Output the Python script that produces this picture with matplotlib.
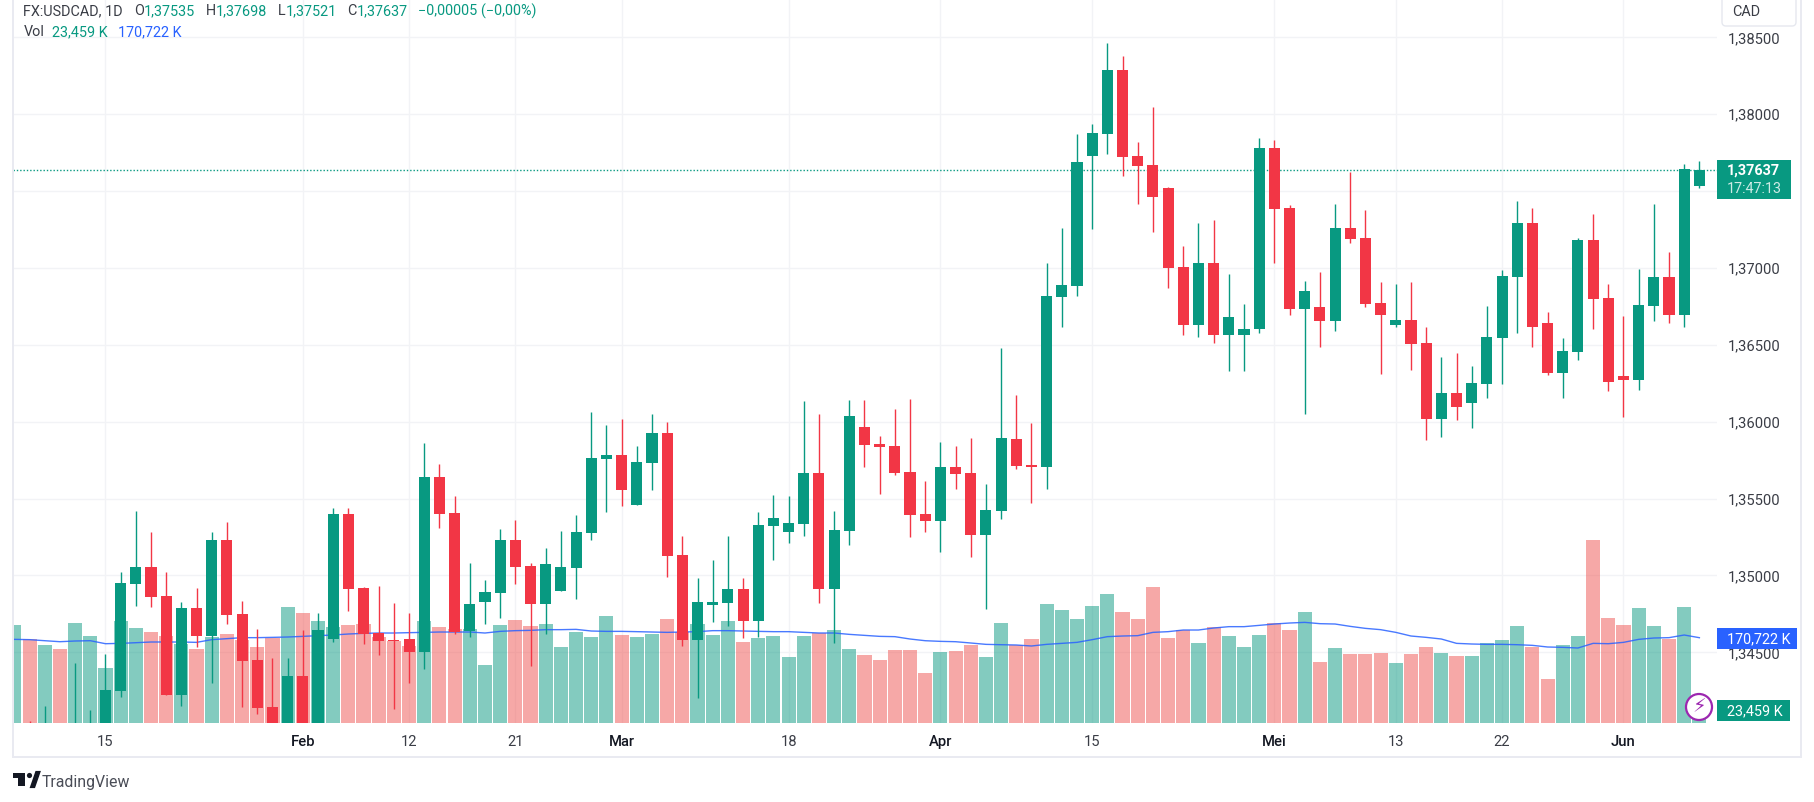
#!/usr/bin/env python3
"""USDCAD daily candles with volume overlay, TradingView style."""
import numpy as np
import matplotlib
matplotlib.use("Agg")
import matplotlib.pyplot as plt
from matplotlib.patches import Rectangle, FancyBboxPatch, Circle, Polygon

W, H = 1815, 802
plt.rcParams["font.family"] = ["Roboto", "DejaVu Sans"]

# prices in 1e-5 units; the first few bodies sit below the visible range
opens = [133900, 134000, 133950, 134000, 133950, 133950, 133950, 134249, 134944, 135054,
         134866, 134223, 134788, 134606, 135229, 134749, 134450, 134145, 134000, 134346,
         134000, 134587, 135398, 134918, 134626, 134580, 134587, 134502, 135639, 135405,
         134639, 134827, 134885, 135229, 135061, 134814, 134898, 135048, 135275, 135755,
         135781, 135457, 135729, 135924, 135132, 134580, 134807, 134820, 134911, 134703,
         135320, 135281, 135333, 135665, 134911, 135288, 135963, 135853, 135840, 135671,
         135398, 135353, 135703, 135665, 135262, 135418, 135885, 135716, 135703, 136814,
         136885, 137729, 137872, 138288, 137729, 137671, 137522, 137009, 136626, 137035,
         136567, 136567, 136600, 137781, 137392, 136736, 136749, 136652, 137262, 137197,
         136775, 136626, 136664, 136509, 136015, 136184, 136119, 136242, 136541, 136944,
         137294, 136639, 136314, 136450, 137184, 136807, 136294, 136268, 136755, 136944,
         136697, 137535]
highs = [133960, 134054, 134151, 134010, 134431, 134126, 134489, 135022, 135418, 135281,
         135022, 134827, 134918, 135281, 135346, 134833, 134652, 134463, 134463, 134645,
         134755, 135437, 135437, 134924, 134931, 134820, 134755, 135859, 135723, 135515,
         135080, 134970, 135301, 135359, 135080, 135177, 135288, 135392, 136061, 135976,
         136015, 135840, 136048, 135996, 135255, 134983, 135100, 135255, 134983, 135411,
         135522, 135515, 136132, 136048, 135418, 136139, 136143, 135905, 136080, 136145,
         135613, 135866, 135840, 135892, 135593, 136476, 136171, 135989, 137035, 137262,
         137872, 137937, 138463, 138379, 137820, 138048, 137528, 137145, 137294, 137314,
         136963, 136768, 137846, 137833, 137411, 136918, 136976, 137418, 137626, 137379,
         136911, 136898, 136911, 136613, 136418, 136444, 136359, 136755, 136989, 137437,
         137392, 136716, 136541, 137197, 137353, 136898, 136690, 136996, 137418, 137106,
         137677, 137698]
lows = [133880, 133900, 133900, 133900, 133900, 133900, 133900, 134210, 134801, 134794,
        134223, 134151, 134535, 134301, 134684, 134145, 134100, 133950, 133950, 133950,
        133950, 134567, 134768, 134554, 134483, 134132, 134301, 134392, 135307, 134619,
        134600, 134684, 134723, 134944, 134411, 134619, 134898, 134846, 135229, 135411,
        135450, 135457, 135554, 134989, 134541, 134203, 134697, 134671, 134593, 134600,
        135100, 135210, 135255, 134820, 134561, 135197, 135703, 135528, 135652, 135249,
        135281, 135152, 135561, 135119, 134781, 135366, 135690, 135470, 135561, 136613,
        136820, 137255, 137742, 137600, 137418, 137236, 136872, 136567, 136548, 136509,
        136327, 136327, 136574, 137035, 136697, 136048, 136483, 136593, 137165, 136749,
        136307, 136613, 136333, 135879, 135898, 136009, 135957, 136152, 136242, 136574,
        136483, 136301, 136152, 136398, 136606, 136197, 136028, 136203, 136658, 136645,
        136619, 137521]
closes = [133950, 133950, 134000, 133950, 134000, 134000, 134255, 134950, 135054, 134859,
          134223, 134788, 134606, 135229, 134742, 134444, 134139, 134000, 134346, 134000,
          134645, 135398, 134911, 134619, 134574, 134574, 134502, 135639, 135398, 134632,
          134814, 134892, 135229, 135054, 134814, 135074, 135054, 135281, 135762, 135781,
          135554, 135736, 135924, 135126, 134580, 134827, 134827, 134911, 134703, 135327,
          135372, 135340, 135665, 134911, 135294, 136035, 135846, 135833, 135665, 135392,
          135353, 135703, 135658, 135262, 135424, 135892, 135710, 135703, 136820, 136892,
          137690, 137879, 138288, 137723, 137665, 137463, 137002, 136626, 137035, 136567,
          136678, 136606, 137781, 137385, 136736, 136853, 136652, 137262, 137190, 136768,
          136697, 136664, 136502, 136015, 136184, 136093, 136249, 136548, 136950, 137294,
          136613, 136314, 136457, 137184, 136801, 136255, 136268, 136762, 136944, 136697,
          137645, 137637]
# volume in thousands
volumes = [196.1, 168.1, 156.1, 148.1, 200.1, 174.1, 110.1, 204.1, 190.1, 182.1,
           174.1, 158.1, 148.1, 172.1, 178.1, 166.1, 152.1, 170.1, 232.1, 220.1,
           204.1, 192.1, 196.1, 198.1, 172.1, 164.1, 154.1, 204.1, 192.1, 188.1,
           188.1, 116.1, 196.1, 206.1, 194.1, 198.1, 152.1, 182.1, 172.1, 214.1,
           176.1, 172.1, 178.1, 208.1, 182.1, 198.1, 176.1, 204.1, 162.1, 170.1,
           174.1, 132.1, 174.1, 180.1, 186.1, 148.1, 136.1, 126.1, 146.1, 146.1,
           100.1, 142.1, 144.1, 156.1, 132.1, 200.1, 156.1, 168.1, 238.1, 226.1,
           208.1, 234.1, 258.1, 222.1, 208.1, 272.1, 170.1, 186.1, 160.1, 192.1,
           174.1, 152.1, 176.1, 200.1, 186.1, 222.1, 122.1, 150.1, 138.1, 138.1,
           140.1, 120.1, 138.1, 152.1, 140.1, 134.1, 134.1, 160.1, 166.1, 194.1,
           152.1, 88.0, 156.1, 174.1, 366.2, 210.1, 196.1, 230.1, 194.1, 168.1,
           232.1, 23.459]
vol_ma = [167.4, 166.8, 164.7, 162.7, 164.1, 164.7, 158.7, 159.4, 160.7, 162.1,
          162.1, 162.1, 161.4, 166.8, 168.8, 170.8, 170.8, 171.4, 172.1, 173.4,
          174.8, 176.1, 178.1, 179.4, 180.1, 180.1, 180.8, 181.4, 182.1, 182.1,
          182.1, 180.1, 183.4, 184.8, 185.4, 186.8, 186.8, 187.4, 184.1, 183.4,
          183.4, 182.8, 182.1, 181.4, 182.1, 182.8, 184.8, 184.8, 184.1, 183.4,
          182.8, 182.8, 181.4, 180.1, 180.1, 177.4, 175.4, 173.4, 172.8, 168.1,
          164.7, 163.4, 162.7, 160.1, 157.4, 156.7, 156.1, 154.1, 157.4, 159.4,
          161.4, 166.8, 172.8, 174.1, 174.8, 181.4, 182.8, 186.1, 186.1, 190.1,
          192.8, 192.8, 195.4, 198.1, 200.1, 201.4, 198.8, 198.1, 193.4, 189.4,
          186.8, 181.4, 174.1, 171.4, 168.1, 159.4, 158.1, 157.4, 157.4, 156.7,
          155.4, 152.1, 151.4, 150.1, 159.4, 158.7, 161.4, 167.4, 170.1, 170.8,
          176.1, 170.722]

price_ticks = [1.345, 1.35, 1.355, 1.36, 1.365, 1.37, 1.375, 1.38, 1.385]
price_labels = ["1,34500", "1,35000", "1,35500", "1,36000", "1,36500", "1,37000", "", "1,38000", "1,38500"]
date_ticks = [6, 19, 26, 33, 40, 51, 61, 71, 83, 91, 98, 106]
date_labels = ["15", "Feb", "12", "21", "Mar", "18", "Apr", "15", "Mei", "13", "22", "Jun"]
months = {"Feb", "Mar", "Apr", "Mei", "Jun"}

last_price = 1.37637

GREEN = "#089981"
RED = "#F23645"
BLUE = "#2962FF"
GRID = "#F2F3F6"
BORDER = "#E9EAF1"
TEXT = "#131722"
AXIS_TEXT = "#3a3d46"


def fx(x):
    return x / W


def fy(y):
    return 1 - y / H


def box(x0, y0, x1, y1, color, z=5):
    fig.add_artist(Rectangle((fx(x0), fy(y1)), (x1 - x0) / W, (y1 - y0) / H,
                             transform=fig.transFigure, fc=color, ec="none", zorder=z))


def txt(x, y, s, color=TEXT, size=10.4, **kw):
    kw.setdefault("ha", "left")
    fig.text(fx(x), fy(y), s, color=color, fontsize=size, va="center", zorder=6, **kw)


o = np.array(opens) / 1e5
h = np.array(highs) / 1e5
l = np.array(lows) / 1e5
c = np.array(closes) / 1e5
idx = np.arange(len(o))
up = c >= o

fig = plt.figure(figsize=(W / 100, H / 100), dpi=100, facecolor="white")
rect = [13 / W, 1 - 723 / H, (1717 - 13) / W, 723 / H]
xlim = (-0.092, 112.16)
ylim = (1.340402, 1.387426)

ax_bg = fig.add_axes(rect, zorder=0)
ax_vol = fig.add_axes(rect, zorder=1)
ax = fig.add_axes(rect, zorder=2)
for a in (ax_bg, ax_vol, ax):
    a.set_xlim(*xlim)
    for s in a.spines.values():
        s.set_visible(False)
ax_vol.patch.set_alpha(0)
ax.patch.set_alpha(0)
ax_vol.axis("off")
ax.axis("off")

ax_bg.set_ylim(*ylim)
ax.set_ylim(*ylim)
ax_vol.set_ylim(0, 1447)

# grid and axis labels
ax_bg.set_xticks(date_ticks)
ax_bg.set_xticklabels(date_labels)
ax_bg.yaxis.tick_right()
ax_bg.set_yticks(price_ticks)
ax_bg.set_yticklabels(price_labels)
ax_bg.grid(True, color=GRID, lw=1.0)
ax_bg.set_axisbelow(True)
ax_bg.tick_params(axis="both", length=0, labelsize=10.6, labelcolor=AXIS_TEXT)
ax_bg.tick_params(axis="y", pad=7.5)
ax_bg.tick_params(axis="x", pad=8.5)
for lab in ax_bg.get_xticklabels():
    if lab.get_text() in months:
        lab.set_fontweight("medium")
        lab.set_color(TEXT)

# volume
vol_colors = [GREEN if u else "#EF5350" for u in up]
ax_vol.bar(idx, volumes, width=0.93, color=vol_colors, alpha=0.5, lw=0)
ax_vol.plot(idx, vol_ma, color=BLUE, lw=1.0, alpha=0.85)

# candles
ax.axhline(last_price, color=GREEN, lw=1.0, ls=(0, (1, 1.4)), zorder=1)
colors = [GREEN if u else RED for u in up]
ax.vlines(idx, l, h, colors=colors, lw=1.0, zorder=2)
ax.bar(idx, np.abs(c - o), bottom=np.minimum(o, c), width=0.73, color=colors, lw=0, zorder=3)

# outer frame
box(12, 0, 14, 758, BORDER)
box(12, 756, 1802, 758, BORDER)
box(1800, 0, 1802, 758, BORDER)

# legend rows
txt(23.5, 11, "FX:USDCAD, 1D", AXIS_TEXT)
for x, s in [(134, "O"), (206, "H"), (278, "L"), (347, "C")]:
    txt(x, 11, s, AXIS_TEXT)
for x, s in [(144, "1,37535"), (216, "1,37698"), (286, "1,37521"), (357, "1,37637"),
             (418, "−0,00005 (−0,00%)")]:
    txt(x, 11, s, GREEN)
txt(23.5, 32, "Vol", AXIS_TEXT)
txt(52.5, 32, "23,459 K", GREEN)
txt(118, 32, "170,722 K", BLUE)

# currency button
fig.add_artist(FancyBboxPatch((1722, H - 26), 74, 40, boxstyle="round,pad=0,rounding_size=4",
                              transform=None, fc="white", ec="#E6E8EF", lw=1.0, zorder=5))
txt(1732, 12, "CAD", AXIS_TEXT)

# price labels
box(1717, 160, 1791, 199, GREEN)
txt(1727, 171, "1,37637", "white", fontweight="bold")
txt(1727, 189, "17:47:13", "#CDEBE5")
box(1717, 628, 1797, 649, BLUE)
txt(1727, 639, "170,722 K", "white")
box(1717, 700, 1790, 721, GREEN)
txt(1727, 711, "23,459 K", "white")

# lightning badge
fig.add_artist(Circle((1699, H - 707), 13, transform=None, fc="white", ec="#9C27B0", lw=1.6, zorder=6))
fig.text(fx(1699), fy(707), "⚡", color="#9C27B0", fontsize=14, ha="center", va="center",
         family="DejaVu Sans", zorder=7)

# logo
box(13, 773, 25, 778, "#131722")
box(18, 773, 25, 786, "#131722")
fig.add_artist(Circle((29.5, H - 775.5), 2.6, transform=None, fc="#131722", ec="none", zorder=6))
fig.add_artist(Polygon([(32.5, H - 786), (37, H - 773), (38, H - 773), (38, H - 773), (33.5, H - 786)],
                       closed=True, transform=None, fc="#131722", ec="#131722", lw=3, zorder=6))
txt(42, 782, "TradingView", "#4A4D57", size=11.4)

fig.savefig("out.png", dpi=100, facecolor="white")
